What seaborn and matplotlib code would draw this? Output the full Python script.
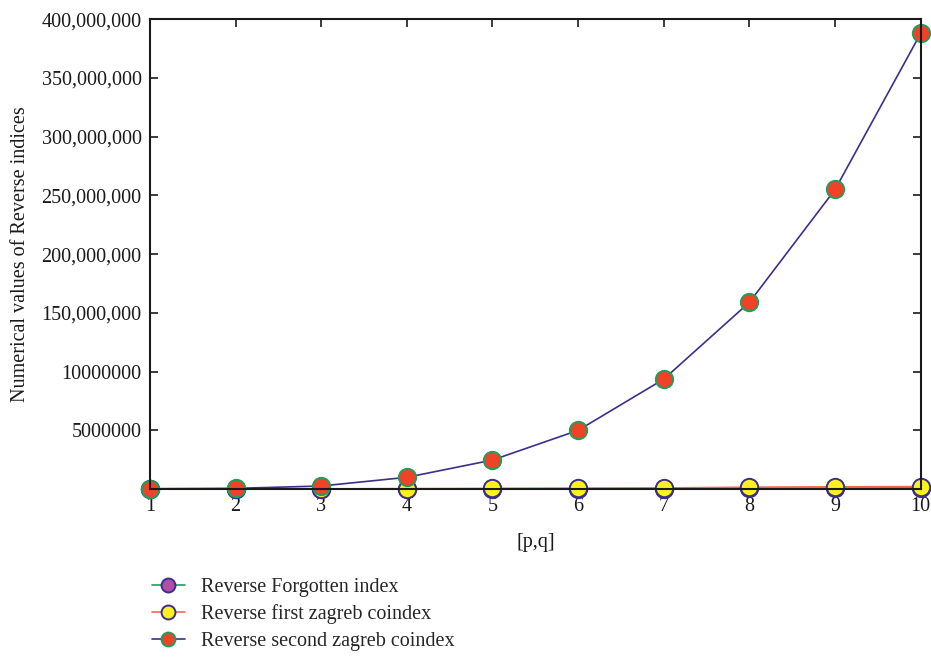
import numpy as np
import pandas as pd
import matplotlib
matplotlib.use("Agg")
import matplotlib.pyplot as plt
import seaborn as sns

# values
pq = [1, 2, 3, 4, 5, 6, 7, 8, 9, 10]
forgotten = [5e3, 2e4, 6e4, 1.2e5, 2e5, 3e5, 4e5, 6e5, 8e5, 1.0e6]
first_zagreb = [1e4, 5e4, 1.5e5, 3.5e5, 5.5e5, 7.5e5, 9.5e5, 1.6e6, 1.9e6, 2.1e6]
second_zagreb = [3e5, 6e5, 2.6e6, 1.0e7, 2.47e7, 5.0e7, 9.36e7, 1.59e8, 2.55e8, 3.88e8]

series_names = ["Reverse Forgotten index", "Reverse first zagreb coindex",
                "Reverse second zagreb coindex"]
y_ticks = [0, 50e6, 100e6, 150e6, 200e6, 250e6, 300e6, 350e6, 400e6]
y_tick_labels = ["", "5000000", "10000000", "150,000,000", "200,000,000",
                 "250,000,000", "300,000,000", "350,000,000", "400,000,000"]

df = pd.DataFrame({"pq": pq, series_names[0]: forgotten,
                   series_names[1]: first_zagreb, series_names[2]: second_zagreb})

sns.set_style("ticks")
plt.rcParams["font.family"] = ["Liberation Serif", "DejaVu Serif"]

styles = [
    # line colour, marker face, marker edge
    ("#1f9e5c", "#b24ea6", "#3b2f8c"),
    ("#f26a4f", "#fff01f", "#3b2f8c"),
    ("#3b2f8c", "#ee4326", "#1f9e5c"),
]

fig = plt.figure(figsize=(9.31, 6.60), dpi=100)
ax = fig.add_axes([0.161, 0.259, 0.828, 0.712])

for name, (lc, fc, ec) in zip(series_names, styles):
    sns.lineplot(data=df, x="pq", y=name, ax=ax, color=lc, marker="o",
                 markersize=12.5, markerfacecolor=fc, markeredgecolor=ec,
                 markeredgewidth=1.4, linewidth=1.2, label=name, clip_on=False)

ax.set_xlim(1, 10)
ax.set_ylim(0, 400e6)
ax.set_xticks(pq)
ax.set_yticks(y_ticks)
ax.set_yticklabels(y_tick_labels)
ax.tick_params(direction="in", length=6, width=1.2, top=True, right=True,
               labelsize=14.5, colors="#1a1a1a", pad=6)
for sp in ax.spines.values():
    sp.set_linewidth(1.5)
    sp.set_color("#1a1a1a")
    sp.set_visible(True)

ax.set_xlabel("[p,q]", fontsize=14.5, labelpad=12, color="#1a1a1a")
ax.set_ylabel("Numerical values of Reverse indices", fontsize=14.5, labelpad=8,
              color="#1a1a1a")

leg = ax.legend(loc="upper left", bbox_to_anchor=(0.155, 0.137),
                bbox_transform=fig.transFigure, frameon=False, fontsize=14.5,
                handlelength=1.6, handletextpad=0.8, labelspacing=0.39,
                borderaxespad=0)
for line in leg.get_lines():
    line.set_markersize(10)

fig.savefig("out.png", dpi=100)
